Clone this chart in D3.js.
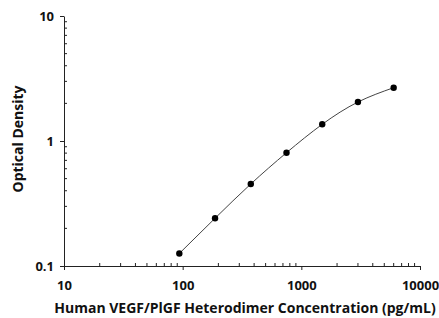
<!DOCTYPE html>
<meta charset="utf-8">
<script src="https://d3js.org/d3.v7.min.js"></script>
<style>
  body { margin: 0; background: #fff; }
  text { font-family: "Open Sans", sans-serif; font-weight: 700; fill: #111; }
  .domain, .tick line { stroke: #222; stroke-width: 1px; }
</style>
<body>
<script>
// standard curve: concentration (pg/mL) vs optical density
var concentration = [93.75, 187.5, 375, 750, 1500, 3000, 6000];
var density = [0.126, 0.241, 0.453, 0.806, 1.36, 2.05, 2.67];
var xTickLabels = [10, 100, 1000, 10000];
var yTickLabels = [0.1, 1, 10];

var width = 439, height = 318;

var svg = d3.select("body").append("svg")
  .attr("width", width)
  .attr("height", height);

var x = d3.scaleLog().domain([10, 10000]).range([64, 420]);
var y = d3.scaleLog().domain([0.1, 10]).range([266, 16]);

// x axis - major ticks point down
var gx = svg.append("g")
  .attr("transform", "translate(0," + y(0.1) + ")")
  .call(d3.axisBottom(x).tickValues(xTickLabels).tickFormat(d3.format("d"))
    .tickSize(4).tickSizeOuter(0).tickPadding(11));
gx.selectAll("text").style("font-size", "13px");

// minor ticks, pointing inside
gx.selectAll(".minor")
  .data(x.ticks().filter(function(d) { return xTickLabels.indexOf(d) < 0; }))
  .enter().append("line")
  .attr("class", "minor")
  .attr("x1", function(d) { return x(d); })
  .attr("x2", function(d) { return x(d); })
  .attr("y1", 0).attr("y2", -3)
  .attr("stroke", "#222");

var gy = svg.append("g")
  .attr("transform", "translate(" + x(10) + ",0)")
  .call(d3.axisLeft(y).tickValues(yTickLabels).tickFormat(function(d) { return d; })
    .tickSize(4).tickSizeOuter(0).tickPadding(6));
gy.selectAll("text").style("font-size", "13px");

gy.selectAll(".minor")
  .data(y.ticks().filter(function(d) { return yTickLabels.indexOf(d) < 0; }))
  .enter().append("line")
  .attr("class", "minor")
  .attr("y1", function(d) { return y(d); })
  .attr("y2", function(d) { return y(d); })
  .attr("x1", 0).attr("x2", 3)
  .attr("stroke", "#222");

var pts = concentration.map(function(c, i) { return [c, density[i]]; });

// fitted curve
svg.append("path")
  .datum(pts)
  .attr("fill", "none")
  .attr("stroke", "#444")
  .attr("stroke-width", 1)
  .attr("d", d3.line()
    .x(function(d) { return x(d[0]); })
    .y(function(d) { return y(d[1]); })
    .curve(d3.curveNatural));

svg.selectAll("circle")
  .data(pts)
  .enter().append("circle")
  .attr("cx", function(d) { return x(d[0]); })
  .attr("cy", function(d) { return y(d[1]); })
  .attr("r", 3.2)
  .attr("fill", "#000");

// axis titles
svg.append("text")
  .attr("x", 245)
  .attr("y", 313)
  .attr("text-anchor", "middle")
  .style("font-size", "14px")
  .text("Human VEGF/PlGF Heterodimer Concentration (pg/mL)");

svg.append("text")
  .attr("transform", "translate(23,139) rotate(-90)")
  .attr("text-anchor", "middle")
  .style("font-size", "14px")
  .text("Optical Density");
</script>
</body>
